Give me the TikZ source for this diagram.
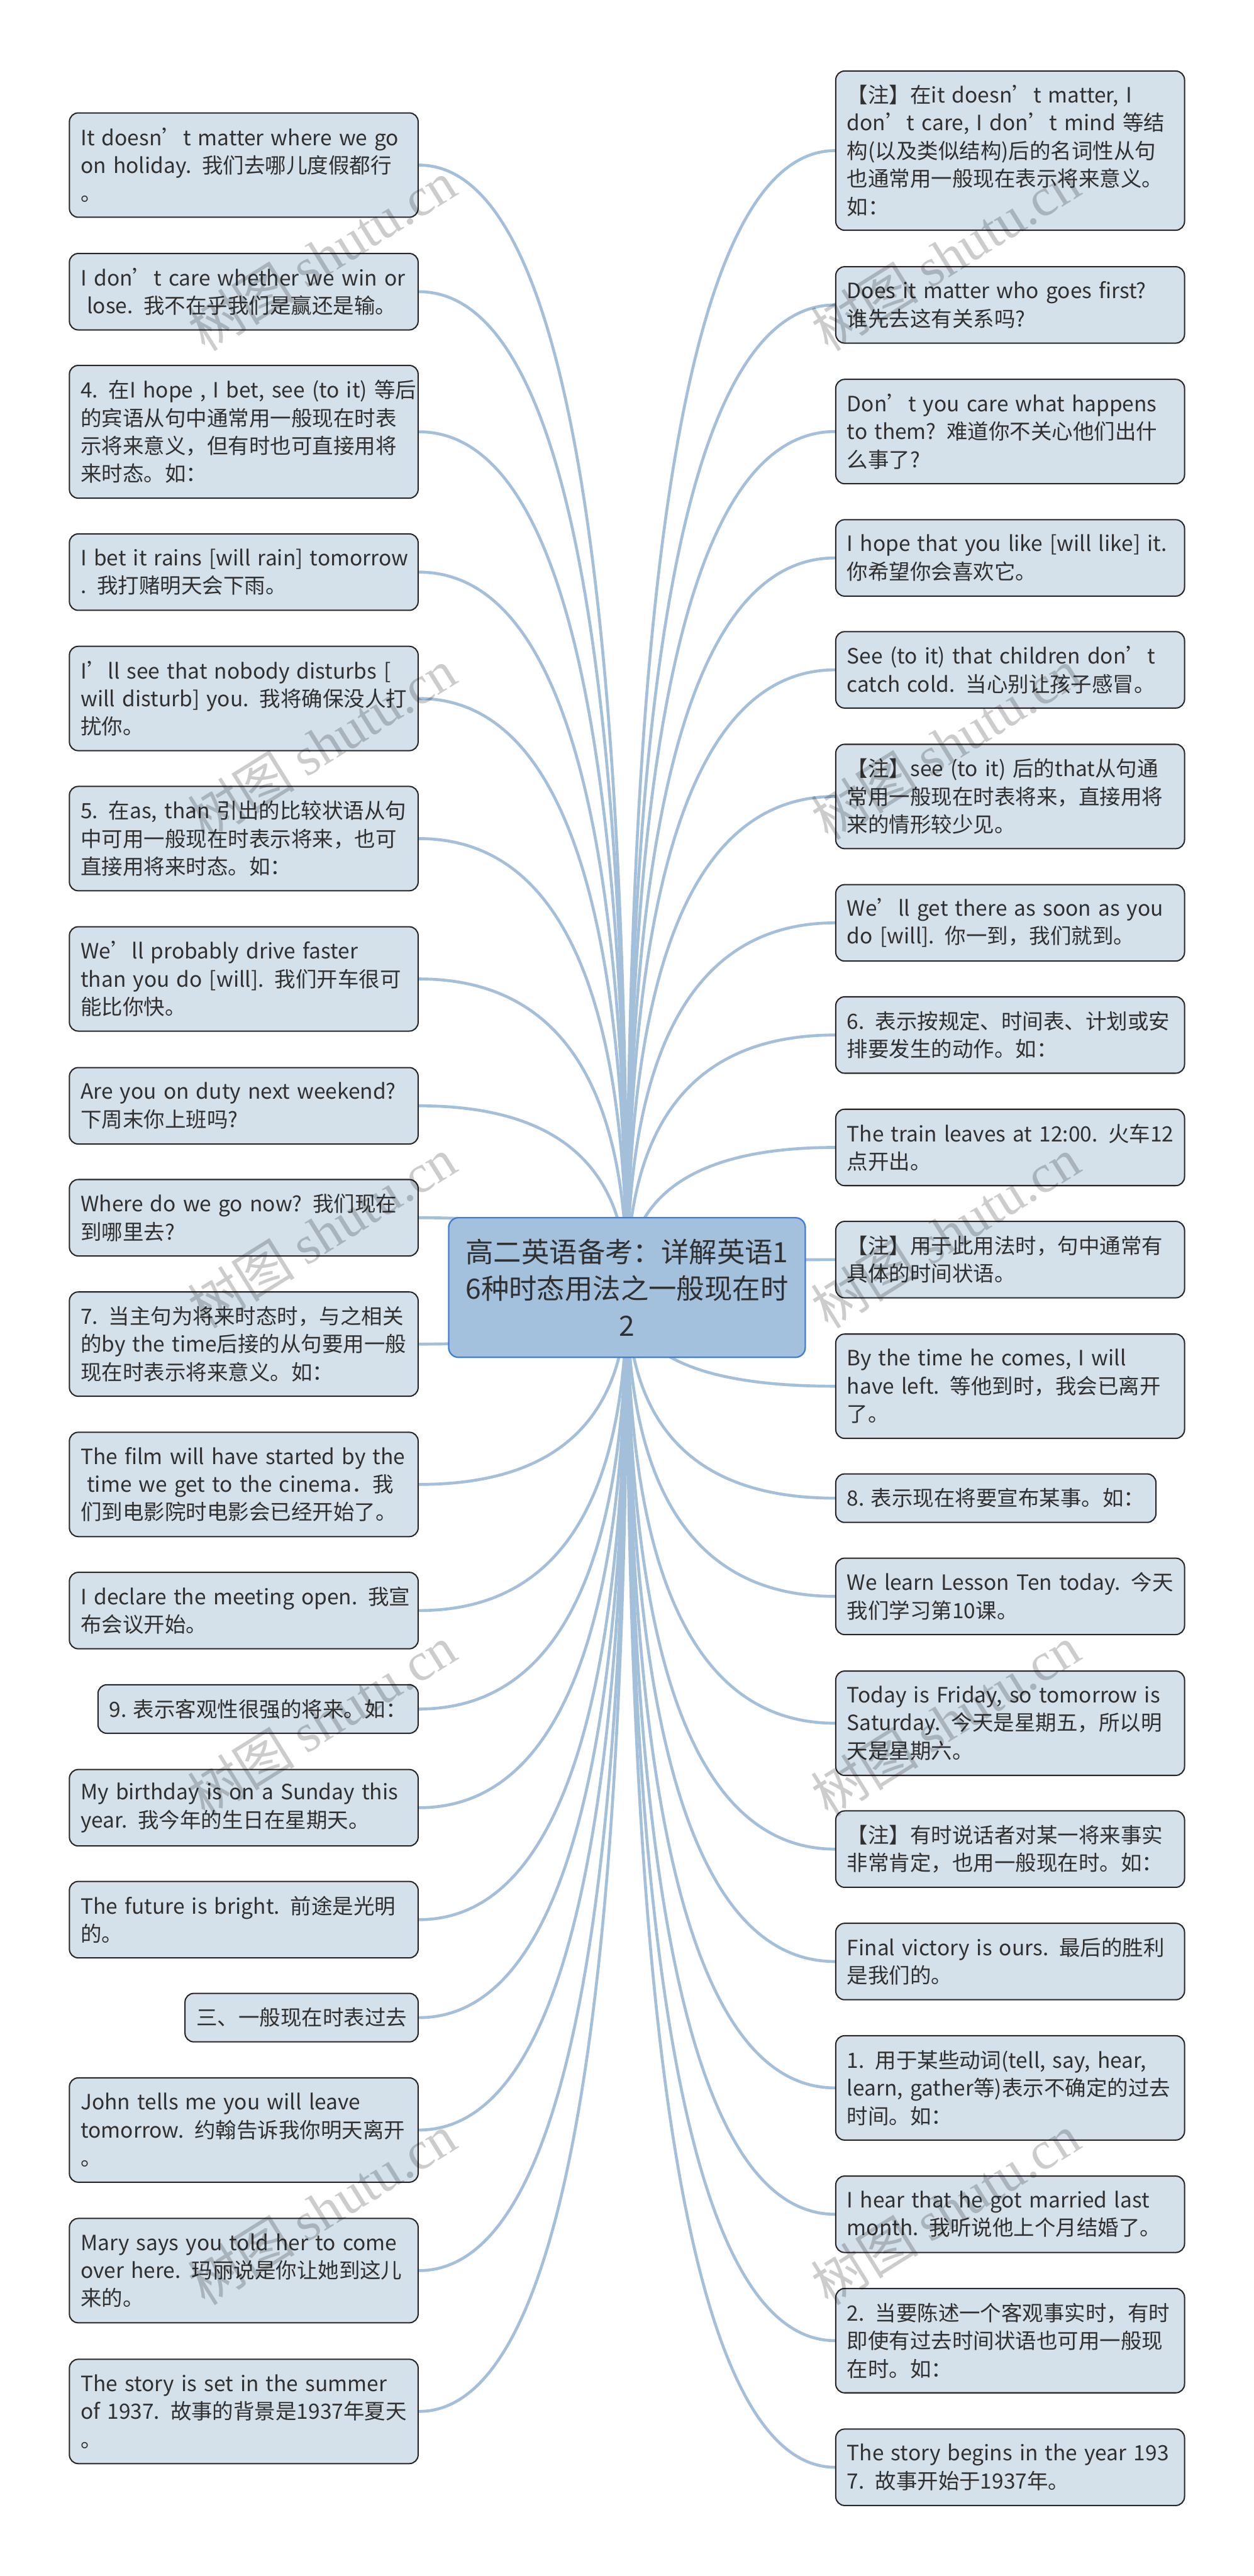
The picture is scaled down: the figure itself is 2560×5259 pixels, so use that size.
\documentclass[tikz,border=0pt]{standalone}
\usepackage{fontspec}
\setmainfont{Noto Sans CJK SC}
\newfontfamily\wmlatin{Liberation Serif}
\usetikzlibrary{calc}
\definecolor{linec}{HTML}{A3BFDA}
\definecolor{boxfill}{HTML}{D4E0EA}
\definecolor{rootfill}{HTML}{A3C1DD}
\definecolor{rootline}{HTML}{3F7ED6}
\definecolor{txt}{HTML}{303030}
\pgfdeclarelayer{bg}
\pgfsetlayers{bg,main}
\tikzset{
  leaf/.style={draw=black!85, line width=1.3pt, fill=boxfill, rounded corners=9pt,
    text=txt, inner xsep=11.5pt, inner ysep=3pt, align=left,
    font=\fontsize{21.5pt}{28.5pt}\selectfont},
  wide/.style={text width=333pt, minimum width=356pt},
  lft/.style={anchor=east},
  rgt/.style={anchor=west},
  h1/.style={minimum height=49.5pt},
  h2/.style={minimum height=78pt},
  h3/.style={minimum height=106.5pt},
  h4/.style={minimum height=135.5pt},
  h5/.style={minimum height=162.5pt},
  conn/.style={draw=linec, line width=3pt},
  rootbox/.style={draw=rootline, line width=1.5pt, fill=rootfill, rounded corners=10pt,
    minimum width=364pt, minimum height=142.5pt, text width=340pt, align=center,
    text=txt, font=\fontsize{28.5pt}{37.5pt}\selectfont},
  wm/.style={rotate=32, text=black, text opacity=0.2, font=\fontsize{55pt}{60pt}\selectfont}
}
\begin{document}
\begin{tikzpicture}[x=0.5pt,y=-0.5pt]
\useasboundingbox (0,0) rectangle (2560,5259);

\node[rootbox] (root) at (1280,2628.5) {高二英语备考：详解英语1\\6种时态用法之一般现在时\\2};
\coordinate (rc) at (root.center);

% left column
\node[leaf,wide,lft,h3] (L1) at (855,337) {\mbox{It doesn’t matter where we go}\\\mbox{on holiday. 我们去哪儿度假都行}\\。};
\node[leaf,wide,lft,h2] (L2) at (855,595.5) {\mbox{I don’t care whether we win or}\\\mbox{\hspace*{.3em}lose. 我不在乎我们是赢还是输。}};
\node[leaf,wide,lft,h4] (L3) at (855,881.5) {\mbox{4. 在I hope , I bet, see (to it) 等后}\\\mbox{的宾语从句中通常用一般现在时表}\\\mbox{示将来意义，但有时也可直接用将}\\来时态。如：};
\node[leaf,wide,lft,h2] (L4) at (855,1168) {\mbox{I bet it rains [will rain] tomorrow}\\. 我打赌明天会下雨。};
\node[leaf,wide,lft,h3] (L5) at (855,1426) {\mbox{I’ll see that nobody disturbs [}\\\mbox{will disturb] you. 我将确保没人打}\\扰你。};
\node[leaf,wide,lft,h3] (L6) at (855,1712) {\mbox{5. 在as, than 引出的比较状语从句}\\\mbox{中可用一般现在时表示将来，也可}\\直接用将来时态。如：};
\node[leaf,wide,lft,h3] (L7) at (855,1998.5) {\mbox{We’ll probably drive faster}\\\mbox{than you do [will]. 我们开车很可}\\能比你快。};
\node[leaf,wide,lft,h2] (L8) at (855,2257.5) {\mbox{Are you on duty next weekend?}\\下周末你上班吗?};
\node[leaf,wide,lft,h2] (L9) at (855,2486) {\mbox{Where do we go now? 我们现在}\\到哪里去?};
\node[leaf,wide,lft,h3] (L10) at (855,2744) {\mbox{7. 当主句为将来时态时，与之相关}\\\mbox{的by the time后接的从句要用一般}\\现在时表示将来意义。如：};
\node[leaf,wide,lft,h3] (L11) at (855,3030.5) {\mbox{The film will have started by the}\\\mbox{\hspace*{.3em}time we get to the cinema．我}\\\mbox{们到电影院时电影会已经开始了。}};
\node[leaf,wide,lft,h2] (L12) at (855,3288) {\mbox{I declare the meeting open. 我宣}\\布会议开始。};
\node[leaf,lft,h1,minimum width=325pt] (L13) at (855,3489) {9. 表示客观性很强的将来。如：};
\node[leaf,wide,lft,h2] (L14) at (855,3690.5) {\mbox{My birthday is on a Sunday this}\\\mbox{year. 我今年的生日在星期天。}};
\node[leaf,wide,lft,h2] (L15) at (855,3919) {\mbox{The future is bright. 前途是光明}\\的。};
\node[leaf,lft,h1,minimum width=236.5pt] (L16) at (855,4119) {三、一般现在时表过去};
\node[leaf,wide,lft,h3] (L17) at (855,4348.5) {\mbox{John tells me you will leave}\\\mbox{tomorrow. 约翰告诉我你明天离开}\\。};
\node[leaf,wide,lft,h3] (L18) at (855,4635.5) {\mbox{Mary says you told her to come}\\\mbox{over here. 玛丽说是你让她到这儿}\\来的。};
\node[leaf,wide,lft,h3] (L19) at (855,4923) {\mbox{The story is set in the summer}\\\mbox{of 1937. 故事的背景是1937年夏天}\\。};

% right column
\node[leaf,wide,rgt,h5] (R1) at (1705,307.5) {\mbox{【注】在it doesn’t matter, I}\\\mbox{don’t care, I don’t mind 等结}\\\mbox{构(以及类似结构)后的名词性从句}\\\mbox{也通常用一般现在表示将来意义。}\\如：};
\node[leaf,wide,rgt,h2] (R2) at (1705,622.5) {\mbox{Does it matter who goes first?}\\谁先去这有关系吗?};
\node[leaf,wide,rgt,h3] (R3) at (1705,881) {\mbox{Don’t you care what happens}\\\mbox{to them? 难道你不关心他们出什}\\么事了?};
\node[leaf,wide,rgt,h2] (R4) at (1705,1139) {\mbox{I hope that you like [will like] it.}\\你希望你会喜欢它。};
\node[leaf,wide,rgt,h2] (R5) at (1705,1367.5) {\mbox{See (to it) that children don’t}\\\mbox{catch cold. 当心别让孩子感冒。}};
\node[leaf,wide,rgt,h3] (R6) at (1705,1626) {\mbox{【注】see (to it) 后的that从句通}\\\mbox{常用一般现在时表将来，直接用将}\\来的情形较少见。};
\node[leaf,wide,rgt,h2] (R7) at (1705,1884) {\mbox{We’ll get there as soon as you}\\\mbox{do [will]. 你一到，我们就到。}};
\node[leaf,wide,rgt,h2] (R8) at (1705,2113) {\mbox{6. 表示按规定、时间表、计划或安}\\排要发生的动作。如：};
\node[leaf,wide,rgt,h2] (R9) at (1705,2342.5) {\mbox{The train leaves at 12:00. 火车12}\\点开出。};
\node[leaf,wide,rgt,h2] (R10) at (1705,2571.5) {\mbox{【注】用于此用法时，句中通常有}\\具体的时间状语。};
\node[leaf,wide,rgt,h3] (R11) at (1705,2830) {\mbox{By the time he comes, I will}\\\mbox{have left. 等他到时，我会已离开}\\了。};
\node[leaf,rgt,h1,minimum width=325pt] (R12) at (1705,3058.5) {8. 表示现在将要宣布某事。如：};
\node[leaf,wide,rgt,h2] (R13) at (1705,3259) {\mbox{We learn Lesson Ten today. 今天}\\我们学习第10课。};
\node[leaf,wide,rgt,h3] (R14) at (1705,3518) {\mbox{Today is Friday, so tomorrow is}\\\mbox{Saturday. 今天是星期五，所以明}\\天是星期六。};
\node[leaf,wide,rgt,h2] (R15) at (1705,3775) {\mbox{【注】有时说话者对某一将来事实}\\\mbox{非常肯定，也用一般现在时。如：}};
\node[leaf,wide,rgt,h2] (R16) at (1705,4004.5) {\mbox{Final victory is ours. 最后的胜利}\\是我们的。};
\node[leaf,wide,rgt,h3] (R17) at (1705,4262.5) {\mbox{1. 用于某些动词(tell, say, hear,}\\\mbox{learn, gather等)表示不确定的过去}\\时间。如：};
\node[leaf,wide,rgt,h2] (R18) at (1705,4520.5) {\mbox{I hear that he got married last}\\\mbox{month. 我听说他上个月结婚了。}};
\node[leaf,wide,rgt,h3] (R19) at (1705,4778.5) {\mbox{2. 当要陈述一个客观事实时，有时}\\\mbox{即使有过去时间状语也可用一般现}\\在时。如：};
\node[leaf,wide,rgt,h2] (R20) at (1705,5037) {\mbox{The story begins in the year 193}\\7. 故事开始于1937年。};

\begin{pgfonlayer}{bg}
\foreach \i in {1,...,19}{
  \draw[conn] (L\i.east) .. controls ($(L\i.east)!0.667!(L\i.east -| rc)$) and ($(rc)!0.667!(rc |- L\i.east)$) .. (rc);
}
\foreach \i in {1,...,20}{
  \draw[conn] (R\i.west) .. controls ($(R\i.west)!0.667!(R\i.west -| rc)$) and ($(rc)!0.667!(rc |- R\i.west)$) .. (rc);
}
\end{pgfonlayer}

% watermarks
\foreach \k in {0,...,4}{
  \node[wm] (wl\k) at (657,522+997*\k) {树图 {\wmlatin shutu.cn}};
  \node[wm] (wr\k) at (1930,522+997*\k) {树图 {\wmlatin shutu.cn}};
}
\end{tikzpicture}
\end{document}
